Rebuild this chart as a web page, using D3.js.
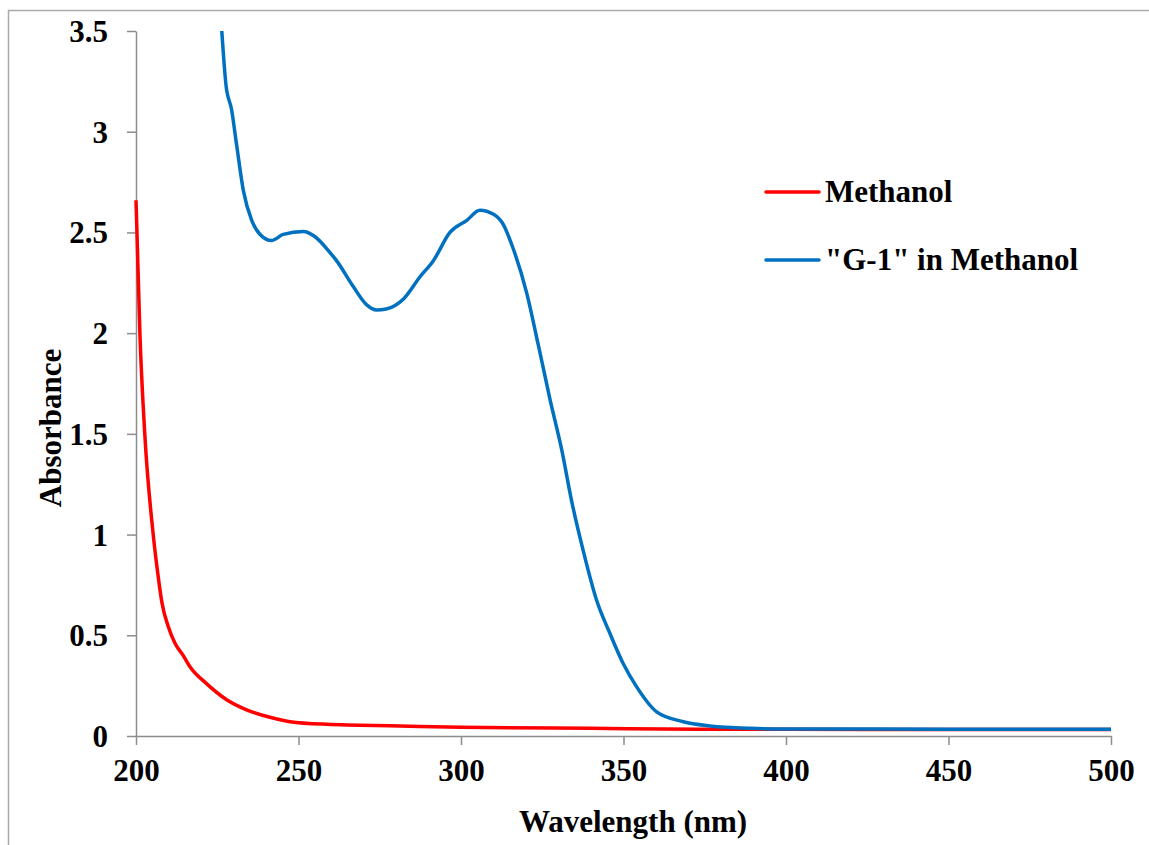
<!DOCTYPE html>
<html>
<head>
<meta charset="utf-8">
<script src="https://cdn.jsdelivr.net/npm/d3@7"></script>
<style>
  body { margin: 0; background: #fff; }
  text { font-family: "Liberation Serif", "Times New Roman", serif; font-weight: bold; fill: #000; }
</style>
</head>
<body>
<svg id="chart" width="1149" height="845"></svg>
<script>
// wavelength (nm), absorbance
var methanolWl  = [200, 200.3, 201.2, 202.7, 205.3, 206.6, 208, 210, 212, 214.5, 216.6, 221.7, 227.9, 234, 241.2, 247.4, 258.7, 281.2, 300, 340, 375, 400, 450, 500];
var methanolAbs = [2.66, 2.5, 2.0, 1.5, 1.0, 0.82, 0.66, 0.54, 0.46, 0.4, 0.344, 0.26, 0.18, 0.13, 0.093, 0.071, 0.058, 0.05, 0.043, 0.038, 0.033, 0.033, 0.032, 0.032];

var g1Wl  = [226.4, 227.7, 229.4, 231, 233, 235.6, 238.2, 241.7, 245.3, 251.5, 255, 259.7, 261.7, 266.9, 271, 274, 277, 282.3, 287.4, 291.5, 296.6, 301.8, 305.8, 310, 313, 315.6, 320.2, 323.8, 327.4, 331, 334, 337.6, 341.7, 345.8, 349.9, 354, 360.2, 368.4, 376.6, 389, 400, 450, 500];
var g1Abs = [3.5, 3.23, 3.11, 2.93, 2.71, 2.56, 2.49, 2.46, 2.49, 2.505, 2.48, 2.40, 2.36, 2.23, 2.14, 2.115, 2.12, 2.17, 2.28, 2.36, 2.50, 2.56, 2.61, 2.59, 2.54, 2.44, 2.20, 1.94, 1.67, 1.42, 1.17, 0.92, 0.675, 0.51, 0.36, 0.245, 0.12, 0.071, 0.05, 0.038, 0.035, 0.034, 0.034];

var xTicks = [200, 250, 300, 350, 400, 450, 500];
var yTicks = [0, 0.5, 1, 1.5, 2, 2.5, 3, 3.5];
var seriesNames = ["Methanol", "\"G-1\" in Methanol"];
var seriesColors = ["#ff0000", "#0070c0"];

var serif = "'Liberation Serif', 'Times New Roman', serif";
var svg = d3.select("#chart");

// outer frame
svg.append("rect")
  .attr("x", 8.5).attr("y", 10.5)
  .attr("width", 1160).attr("height", 860)
  .attr("fill", "none").attr("stroke", "#aaaaaa").attr("stroke-width", 1.5);

var x = d3.scaleLinear().domain([200, 500]).range([136, 1111]);
var y = d3.scaleLinear().domain([0, 3.5]).range([736, 31]);

var line = d3.line()
  .x(function(d){ return x(d[0]); })
  .y(function(d){ return y(d[1]); })
  .curve(d3.curveMonotoneX);

var series = [
  d3.zip(methanolWl, methanolAbs),
  d3.zip(g1Wl, g1Abs)
];

svg.append("clipPath").attr("id", "plot")
  .append("rect").attr("x", 130).attr("y", 29).attr("width", 990).attr("height", 712);

// axes
var xAxis = svg.append("g")
  .attr("transform", "translate(0,736)")
  .call(d3.axisBottom(x).tickValues(xTicks).tickSize(9).tickSizeOuter(0).tickPadding(14).tickFormat(d3.format("d")));
var yAxis = svg.append("g")
  .attr("transform", "translate(136,0)")
  .call(d3.axisLeft(y).tickValues(yTicks).tickSize(9).tickSizeOuter(0).tickPadding(19).tickFormat(function(d){ return String(d); }));

[xAxis, yAxis].forEach(function(a){
  a.attr("font-family", serif).attr("font-size", 31).attr("font-weight", "bold");
  a.select(".domain").attr("stroke", "#8c8c8c").attr("stroke-width", 1.5);
  a.selectAll(".tick line").attr("stroke", "#8c8c8c").attr("stroke-width", 1.5);
  a.selectAll(".tick text").attr("fill", "#000")
    .style("font-family", serif).style("font-weight", "bold");
});
xAxis.selectAll(".tick text").attr("dy", "0.71em");
yAxis.selectAll(".tick text").attr("dy", "0.34em");

// curves
svg.append("g").attr("clip-path", "url(#plot)")
  .selectAll("path")
  .data(series)
  .enter()
  .append("path")
  .attr("d", line)
  .attr("fill", "none")
  .attr("stroke", function(d, i){ return seriesColors[i]; })
  .attr("stroke-width", 3.5)
  .attr("stroke-linejoin", "round");

// legend
var legend = svg.append("g").selectAll("g")
  .data(seriesNames)
  .enter()
  .append("g")
  .attr("transform", function(d, i){ return "translate(766," + (192 + i * 68) + ")"; });
legend.append("line")
  .attr("x1", 0).attr("x2", 53)
  .attr("stroke", function(d, i){ return seriesColors[i]; })
  .attr("stroke-width", 3.5).attr("stroke-linecap", "round");
legend.append("text")
  .attr("x", 59).attr("y", 10)
  .attr("font-size", 31)
  .text(function(d){ return d; });

// axis titles
svg.append("text")
  .attr("x", 633).attr("y", 832)
  .attr("text-anchor", "middle")
  .attr("font-size", 31)
  .text("Wavelength (nm)");
svg.append("text")
  .attr("transform", "translate(61,428) rotate(-90)")
  .attr("text-anchor", "middle")
  .attr("font-size", 31)
  .text("Absorbance");
</script>
</body>
</html>
